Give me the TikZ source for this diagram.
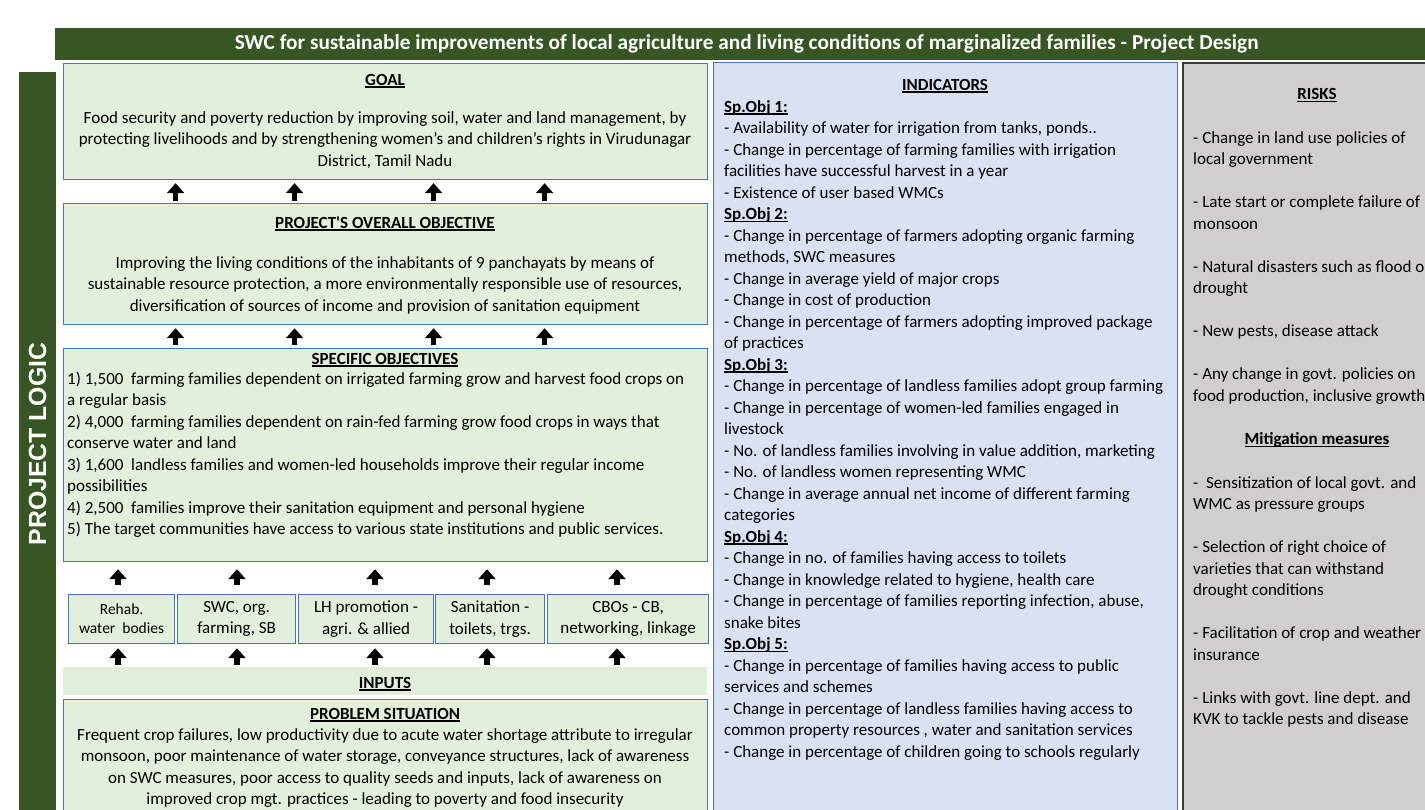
\documentclass[tikz,border=0pt]{standalone}
\usepackage{fontspec}
\setmainfont{Carlito}
\newfontfamily\arialfont{Liberation Sans}
\usepackage{tikz}
\usetikzlibrary{arrows.meta,positioning}

\definecolor{barGreen}{HTML}{375623}
\definecolor{boxGreen}{HTML}{E2EFDA}
\definecolor{boxBlue}{HTML}{4472C4}
\definecolor{indBlue}{HTML}{D9E1F2}
\definecolor{riskGray}{HTML}{D0CECE}
\definecolor{riskEdge}{HTML}{3A3A3A}

\newsavebox\ulbox
\newcommand\ul[1]{\sbox\ulbox{#1}\rlap{\rule[-2.6pt]{\wd\ulbox}{1.3pt}}\usebox\ulbox}
\newcommand\hd[1]{\ul{\textbf{#1}}}

\begin{document}
\begin{tikzpicture}[
    x=1pt, y=-1pt,
    font=\fontsize{17}{21.5}\selectfont,
    gbox/.style={draw=boxBlue, fill=boxGreen, line width=1.2pt, inner sep=0pt, anchor=north west},
    txt/.style={inner sep=0pt, anchor=base},
    uparrow/.style={line width=5.5pt, -{Triangle[width=17pt,length=10pt]}},
  ]
  \useasboundingbox (0,0) rectangle (1425,809);
  \clip (0,0) rectangle (1425,809);

  % --- Bars ---
  \node[fill=barGreen, minimum width=1375pt, minimum height=32pt, inner sep=0pt, anchor=north west] (titlebar) at (55,28) {};
  \node[font=\fontsize{21.3}{24}\selectfont\bfseries, text=white, inner sep=0pt] (title) at ([xshift=4pt]titlebar.center)
    {SWC for sustainable improvements of local agriculture and living conditions of marginalized families - Project Design};
  \node[fill=barGreen, minimum width=37pt, minimum height=745pt, inner sep=0pt, anchor=north west] (logicbar) at (19,72) {};
  \node[font=\arialfont\fontsize{24.8}{26}\selectfont\bfseries, text=white, rotate=90, inner sep=0pt] (logic) at (37.5,444) {PROJECT LOGIC};

  % --- Project logic boxes ---
  \node[gbox, minimum width=644pt, minimum height=116pt] (goal) at (63,63) {};
  \node[gbox, minimum width=644pt, minimum height=121pt] (poo) at (63,203) {};
  \node[gbox, minimum width=644pt, minimum height=213pt] (spec) at (63,348) {};
  \node[fill=boxGreen, minimum width=644pt, minimum height=28pt, inner sep=0pt, anchor=north west] (inputs) at (63,667) {};
  \node[gbox, minimum width=644pt, minimum height=120pt] (prob) at (63,699) {};

  % multi-line texts sit on the baseline of their last line
  \node[txt, align=center] (goaltxt) at (385,166) {\hd{GOAL}\\[16.5pt]
    Food security and poverty reduction by improving soil, water and land management, by\\
    protecting livelihoods and by strengthening women’s and children’s rights in Virudunagar\\
    District, Tamil Nadu};
  \node[txt, align=center] (pootxt) at (385,311) {\hd{PROJECT\textquotesingle S OVERALL OBJECTIVE}\\[18.5pt]
    Improving the living conditions of the inhabitants of 9 panchayats by means of\\
    sustainable resource protection, a more environmentally responsible use of resources,\\
    diversification of sources of income and provision of sanitation equipment};
  \node[txt] (spechd) at (385,364) {\hd{SPECIFIC OBJECTIVES}};
  \node[txt, anchor=base west, align=left] (spectxt) at (67,534.5) {%
    1) 1,500 ~farming families dependent on irrigated farming grow and harvest food crops on\\
    a regular basis\\
    2) 4,000 ~farming families dependent on rain-fed farming grow food crops in ways that\\
    conserve water and land\\
    3) 1,600 ~landless families and women-led households improve their regular income\\
    possibilities\\
    4) 2,500 ~families improve their sanitation equipment and personal hygiene\\
    5) The target communities have access to various state institutions and public services.};

  % --- Activities ---
  \node[gbox, minimum width=106pt, minimum height=49pt, align=center, font=\fontsize{15.5}{19}\selectfont] (sb1) at (68,594) {Rehab.\\water~ bodies};
  \node[gbox, minimum width=118pt, minimum height=49pt, align=center] (sb2) at (177,594) {SWC, org.\\farming, SB};
  \node[gbox, minimum width=135pt, minimum height=49pt, align=center] (sb3) at (298,594) {LH promotion -\\agri. \& allied};
  \node[gbox, minimum width=109pt, minimum height=49pt, align=center] (sb4) at (435,594) {Sanitation -\\toilets, trgs.};
  \node[gbox, minimum width=161pt, minimum height=49pt, align=center] (sb5) at (547,594) {CBOs - CB,\\networking, linkage};

  \node[txt] (inputstxt) at (385,688) {\hd{INPUTS}};
  \node[txt] (probhd) at (385,719) {\hd{PROBLEM SITUATION}};
  \node[txt, align=center] (probtxt) at (385,804.5) {%
    Frequent crop failures, low productivity due to acute water shortage attribute to irregular\\
    monsoon, poor maintenance of water storage, conveyance structures, lack of awareness\\
    on SWC measures, poor access to quality seeds and inputs, lack of awareness on\\
    improved crop mgt. practices - leading to poverty and food insecurity};

  % --- Arrows ---
  \foreach \dx in {-210,-91,48,159} {
    \draw[uparrow, shorten <=2pt, shorten >=3pt] ([xshift=\dx pt]poo.north) -- ([xshift=\dx pt]goal.south);
    \draw[uparrow, shorten <=3pt, shorten >=3pt] ([xshift=\dx pt]spec.north) -- ([xshift=\dx pt]poo.south);
  }
  \foreach \b/\x in {sb1/118, sb2/237, sb3/375, sb4/487, sb5/617} {
    \coordinate (a\b) at (\x,0);
    \draw[uparrow, shorten <=9pt, shorten >=7pt] (a\b |- \b.north) -- (a\b |- spec.south);
    \draw[uparrow, shorten <=2pt, shorten >=4pt] (a\b |- inputs.north) -- (a\b |- \b.south);
  }

  % --- Indicators ---
  \node[draw=boxBlue, fill=indBlue, line width=1.2pt, minimum width=464pt, minimum height=760pt, inner sep=0pt, anchor=north west] (ind) at (713,62) {};
  \node[txt] (indhd) at (945,90) {\hd{INDICATORS}};
  \node[txt, anchor=base west, align=left] (indtxt) at (724,757) {%
    \hd{Sp.Obj 1:}\\
    - Availability of water for irrigation from tanks, ponds..\\
    - Change in percentage of farming families with irrigation\\
    facilities have successful harvest in a year\\
    - Existence of user based WMCs\\
    \hd{Sp.Obj 2:}\\
    - Change in percentage of farmers adopting organic farming\\
    methods, SWC measures\\
    - Change in average yield of major crops\\
    - Change in cost of production\\
    - Change in percentage of farmers adopting improved package\\
    of practices\\
    \hd{Sp.Obj 3:}\\
    - Change in percentage of landless families adopt group farming\\
    - Change in percentage of women-led families engaged in\\
    livestock\\
    - No. of landless families involving in value addition, marketing\\
    - No. of landless women representing WMC\\
    - Change in average annual net income of different farming\\
    categories\\
    \hd{Sp.Obj 4:}\\
    - Change in no. of families having access to toilets\\
    - Change in knowledge related to hygiene, health care\\
    - Change in percentage of families reporting infection, abuse,\\
    snake bites\\
    \hd{Sp.Obj 5:}\\
    - Change in percentage of families having access to public\\
    services and schemes\\
    - Change in percentage of landless families having access to\\
    common property resources , water and sanitation services\\
    - Change in percentage of children going to schools regularly};

  % --- Risks ---
  \node[draw=riskEdge, fill=riskGray, line width=1.8pt, minimum width=270pt, minimum height=760pt, inner sep=0pt, anchor=north west] (risk) at (1182,62) {};
  \node[txt] (riskhd) at (1317,99.5) {\hd{RISKS}};
  \node[txt, anchor=base west, align=left] (risktxt) at (1193,401) {%
    - Change in land use policies of\\
    local government\\[21.5pt]
    - Late start or complete failure of\\
    monsoon\\[21.5pt]
    - Natural disasters such as flood or\\
    drought\\[21.5pt]
    - New pests, disease attack\\[21.5pt]
    - Any change in govt. policies on\\
    food production, inclusive growth};
  \node[txt] (mithd) at (1317,444.5) {\hd{Mitigation measures}};
  \node[txt, anchor=base west, align=left] (mittxt) at (1193,724.5) {%
    - ~Sensitization of local govt. and\\
    WMC as pressure groups\\[21.5pt]
    - Selection of right choice of\\
    varieties that can withstand\\
    drought conditions\\[21.5pt]
    - Facilitation of crop and weather\\
    insurance\\[21.5pt]
    - Links with govt. line dept. and\\
    KVK to tackle pests and disease};
\end{tikzpicture}
\end{document}
